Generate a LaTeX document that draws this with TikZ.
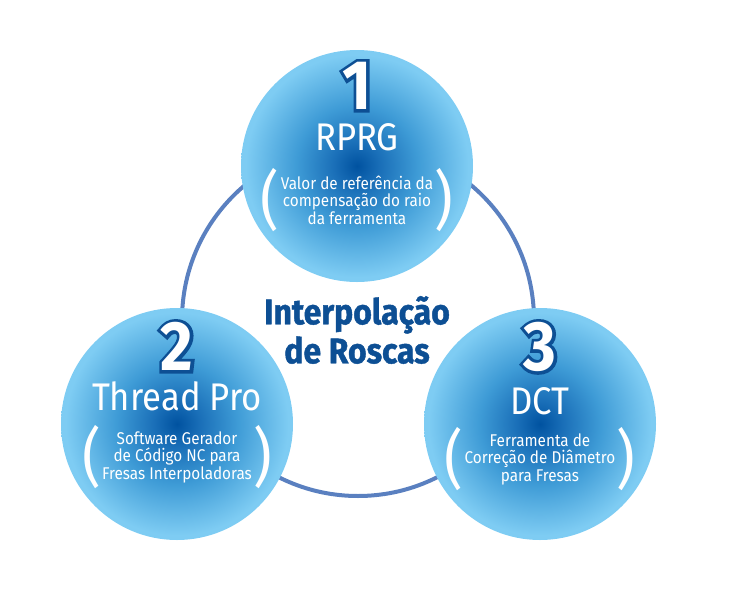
\documentclass[tikz,border=0pt]{standalone}
\usepackage{fontspec}
\setmainfont{Fira Sans}[FakeStretch=0.9]
\newfontfamily\lightface{Fira Sans}[FakeStretch=0.9]
\newfontfamily\rimface{Fira Sans}[FakeStretch=0.9,FakeBold=9]
\newfontfamily\headface{Fira Sans}[FakeStretch=0.9,FakeBold=1.2]
\usetikzlibrary{positioning}

\definecolor{deepblue}{HTML}{0052A0}
\definecolor{darkmid}{HTML}{1A6FB8}
\definecolor{midblue}{HTML}{3E9BD6}
\definecolor{paleblue}{HTML}{7ECCF3}
\definecolor{ringblue}{HTML}{5A80C0}
\definecolor{inkblue}{HTML}{0D4F94}
\pgfdeclareradialshading{bubbleshade}{\pgfpoint{0bp}{0bp}}{color(0bp)=(deepblue); color(5bp)=(darkmid); color(13bp)=(midblue); color(24bp)=(paleblue); color(50bp)=(paleblue)}

\begin{document}
\begin{tikzpicture}[x=1pt,y=-1pt,
  bubble/.style={circle, minimum size=232pt, inner sep=0pt, shading=bubbleshade},
  numlbl/.style={text=white, font=\bfseries\fontsize{70}{70}\selectfont, inner sep=0pt, text height=49pt, text depth=0pt},
  numrim/.style={text=inkblue, font=\rimface\bfseries\fontsize{70}{70}\selectfont, inner sep=0pt, text height=49pt, text depth=0pt},
  title/.style={text=white, font=\lightface\fontsize{38.5}{38.5}\selectfont, inner sep=0pt, text height=27pt, text depth=0pt},
  body/.style={text=white, align=center, font=\fontsize{17}{17.5}\selectfont, inner sep=1pt},
  paren/.style={text=white, font=\lightface\fontsize{64}{64}\selectfont, inner sep=0pt},
  ring/.style={draw=ringblue, line width=4pt}]
\useasboundingbox (0,0) rectangle (740,600);
\coordinate (hub) at (358,320);
\draw[ring] (hub) circle (176);

% the three tools
\node[bubble] (rprg) at (357,166) {};
\node[bubble] (thread) at (177,424) {};
\node[bubble] (dct) at (540,424) {};

\node[numrim] (m1) at ([yshift=81pt]rprg.center) {1};
\node[numlbl] (n1) at (m1) {1};
\node[title] (t1) at ([yshift=29pt]rprg.center) {RPRG};
\node[body] (b1) at ([yshift=-34pt]rprg.center) {Valor de referência da\\compensação do raio\\da ferramenta};
\node[paren, left=0pt of b1] (l1) {(};
\node[paren, right=0pt of b1] (r1) {)};

\node[numrim] (m2) at ([yshift=78pt]thread.center) {2};
\node[numlbl] (n2) at (m2) {2};
\node[title] (t2) at ([yshift=27pt]thread.center) {Thread Pro};
\node[body] (b2) at ([yshift=-33pt]thread.center) {Software Gerador\\de Código NC para\\Fresas Interpoladoras};
\node[paren, left=0pt of b2] (l2) {(};
\node[paren, right=0pt of b2] (r2) {)};

\node[numrim] (m3) at ([yshift=78pt]dct.center) {3};
\node[numlbl] (n3) at (m3) {3};
\node[title] (t3) at ([yshift=23pt]dct.center) {DCT};
\node[body] (b3) at ([yshift=-35pt]dct.center) {Ferramenta de\\Correção de Diâmetro\\para Fresas};
\node[paren, left=0pt of b3] (l3) {(};
\node[paren, right=0pt of b3] (r3) {)};

\node[align=center, text=inkblue, font=\headface\bfseries\fontsize{35.5}{39}\selectfont] (topic) at (357,330) {Interpolação\\de Roscas};
\end{tikzpicture}
\end{document}
